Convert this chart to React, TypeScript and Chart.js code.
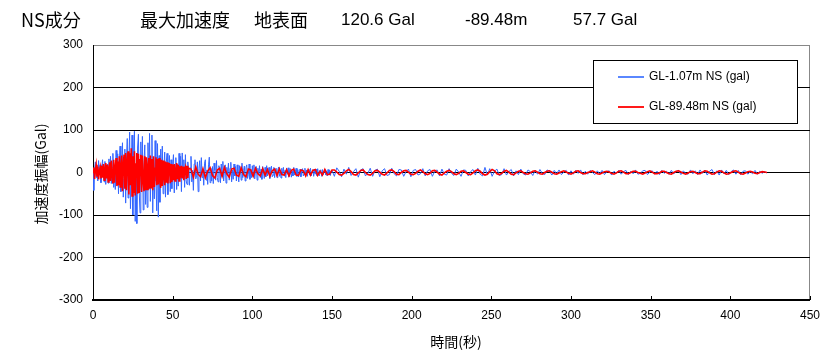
import React, { useEffect, useRef } from "react";
import { Chart, registerables } from "chart.js";

Chart.register(...registerables);

// Title pieces
const titleParts = ["NS成分", "最大加速度", "地表面", "120.6 Gal", "-89.48m", "57.7 Gal"];
const seriesNames = ["GL-1.07m NS (gal)", "GL-89.48m NS (gal)"];
const xTitle = "時間(秒)";
const yTitle = "加速度振幅(Gal)";
const xTicks = [0, 50, 100, 150, 200, 250, 300, 350, 400, 450];
const yTicks = [-300, -200, -100, 0, 100, 200, 300];

// sampling of the read-off values (seconds)
const earlyStart = 0; // 0 .. 60 s, every 0.5 s
const earlyStep = 0.5;
const midStart = 60.5; // 60.5 .. 150 s, every 0.5 s (GL-1.07m)
const midStep = 0.5;
const tailStart = 151.5; // 151.5 .. 423 s, every 1.5 s (GL-1.07m)
const tailStep = 1.5;
const lateStart = 61.5; // 61.5 .. 423 s, every 1.5 s (GL-89.48m)
const lateStep = 1.5;

// GL-1.07m, 0-60 s
const blueEarly = [
  0, -42, 8, 25, -12, 5, -20, 28, -6, 18, -24,
  10, 30, -8, -22, 26, -28, 4, 20, -25, 32,
  -10, 38, -26, 12, 45, -35, 6, -40, 52, -18,
  44, -50, 20, 62, -45, 10, 70, -58, -15, 55,
  -72, 30, 80, -60, 25, 95, -85, -20, 88, -100,
  40, 97, -115, 10, -120, 60, 90, -45, -95, 72,
  -30, 85, -88, 20, 65, -75, 10, -82, 70, -40,
  92, -68, 15, 88, -95, 30, -62, 75, -20, -90,
  68, -105, 40, -70, 55, -20, 62, -50, 10, 48,
  -58, 25, 45, -52, 5, 40, -45, 30, -38, 15,
  42, -48, 10, 35, -40, 20, -32, 45, -15, 38,
  -45, 46, -10, 30, -35, 42, -20, -28, 25, 8,
];

// GL-1.07m, 60.5-150 s
const blueMid = [
  -30, 12, 38, -22, 5, -42, 20, 30, -15, -8,
  25, -45, 10, 28, -20, 35, -12, 4, -30, 22,
  30, -18, 6, -28, 18, 36, -24, 10, -20, 14,
  -26, 22, 5, -18, 28, -12, -22, 16, 8, -24,
  20, -10, 26, -20, 4, 18, -25, 12, -6, 22,
  -18, 10, 24, -22, 6, -16, 20, -8, 14, -20,
  18, -4, -22, 16, 10, -18, 22, -12, 5, 15,
  -20, 12, 18, -14, -4, 20, -16, 8, -12, 16,
  -10, 18, -15, 4, 14, -18, 10, -6, 16, -12,
  8, -16, 14, 2, -14, 12, -10, 16, -8, 6,
  12, -14, 4, 15, -10, -6, 12, -12, 8, 10,
  -12, 6, 13, -9, 3, -13, 10, -6, 12, -8,
  5, -12, 10, -4, 11, -10, 6, 9, -11, 4,
  -8, 12, -6, 2, 10, -9, 7, -10, 5, 8,
  -10, 4, 9, -8, -3, 10, -7, 6, -9, 3,
  8, -6, 10, -8, 2, 7, -9, 5, -4, 8,
  -7, 9, -3, -8, 6, 5, -9, 7, -5, 2,
  8, -6, 4, -8, 7, -3, 6, -7, 3, 5,
];

// GL-1.07m, 151.5-423 s
const blueTail = [
  -9, 11, 3, -10, 8, -4, 12, -7, 2, 9,
  -11, 6, 9, -8, -2, 10, -9, 5, 8, -10,
  4, 9, -7, -5, 10, -3, -8, 7, 6, -9,
  2, 8, -10, 5, 7, -6, -3, 9, -8, 4,
  7, -9, 3, 6, -8, 8, -4, -6, 9, -2,
  -7, 8, 1, -9, 6, 5, -8, 2, 7, -6,
  10, -4, -8, 12, -6, 9, -9, 3, 8, -7,
  -5, 9, -6, 2, 7, -8, 4, -5, 8, -3,
  -6, 6, 2, -7, 5, -4, 7, -2, -5, 6,
  3, -6, 5, -3, 6, -5, 1, 5, -6, 4,
  -4, 5, -2, 6, -5, 3, -4, 5, 0, -5,
  4, -3, 5, -5, 2, 4, -6, 3, -2, 5,
  -4, 2, 5, -5, 3, -3, 6, -4, -2, 4,
  5, -5, 1, 4, -4, 3, -5, 5, -2, 3,
  -4, 5, -3, 2, 5, -5, 4, -2, -4, 6,
  -3, 4, -5, 6, -2, 5, -6, 3, 7, -5,
  4, -6, 6, -3, 5, -5, 2, 6, -4, 5,
  -5, 3, 4, -4, 2, -3, 5, -4, 3, -2,
  2, -1,
];

// GL-89.48m, 0-60 s
const redEarly = [
  0, 12, -15, 5, 18, -10, 14, -16, 3, 12, -14,
  16, -12, 20, -18, 8, 22, -14, 18, -22, 10,
  24, -20, 28, -8, -26, 30, -24, 12, 34, -32,
  26, -30, 38, -34, 15, 40, -44, 20, 42, -38,
  46, -42, 25, 50, -52, 45, -30, 57, -55, 38,
  -48, 50, -54, 20, 46, -50, 44, -48, 30, 42,
  -46, 40, -20, -44, 38, -42, 36, -40, 15, 34,
  -38, 40, -36, 32, -42, 38, -34, 10, 36, -30,
  32, -28, 34, -20, -36, 30, -32, 28, -12, -30,
  26, -24, 24, -26, 8, 22, -25, 20, -22, 18,
  -18, 20, -20, 6, 22, -16, 18, -20, 15, -12,
  16, -14, 14, -18, 5, 12, -15, 16, -13, 10,
];

// GL-89.48m, 61.5-423 s
const redLate = [
  8, -11, 13, -4, -10, 9, -12, 3, 11, -7,
  -13, 6, 10, -9, 12, -3, -11, 8, 10, -6,
  -9, 11, -5, -10, 8, 6, -9, 10, -3, -8,
  9, -6, 7, -9, 4, 8, -7, 9, -5, -6,
  7, -8, 5, 8, -6, -7, 6, 4, -8, 7,
  -6, 5, 7, -7, 3, -6, 7, -5, -4, 6,
  6, 1, -5, -6, -2, 4, 7, 2, -5, -6,
  -1, 5, 6, 0, -5, -6, -2, 4, 5, 1,
  -4, -6, -1, 5, 6, 2, -4, -5, 0, 4,
  5, 1, -4, -5, -2, 3, 6, 2, -3, -5,
  -2, 4, 5, 1, -4, -6, -1, 3, 5, 2,
  -3, -5, -2, 3, 4, 0, -4, -5, -1, 4,
  6, 3, -3, -6, -4, 2, 7, 4, -3, -5,
  -2, 3, 5, 1, -4, -5, -1, 3, 4, 0,
  -3, -4, -1, 3, 4, 1, -3, -4, 0, 3,
  4, 1, -3, -4, -1, 2, 4, 1, -2, -4,
  -1, 3, 4, 0, -3, -3, 0, 2, 4, 1,
  -3, -4, -1, 2, 3, 1, -2, -4, -1, 3,
  4, 1, -3, -3, 0, 3, 3, 0, -2, -4,
  -1, 2, 4, 1, -3, -3, -1, 3, 3, 0,
  -3, -4, 0, 3, 4, 1, -2, -4, -1, 2,
  3, 0, -3, -3, 1, 4, 3, -1, -4, -3,
  1, 4, 3, -1, -4, -3, 0, 3, 4, 1,
  -3, -4, -1, 2, 3, 1, -2, -3, 0, 2,
  1, 0,
];

const blueColor = "#3366ff";
const redColor = "#ff0000";
const legendColors = ["#5a87ff", "#ff1a1a"];

type Seg = { start: number; step: number; values: number[] };
function toPoints(segs: Seg[]) {
  const pts: { x: number; y: number }[] = [];
  segs.forEach((s) => s.values.forEach((v, i) => pts.push({ x: s.start + i * s.step, y: v })));
  return pts;
}

const JP = '"Noto Sans CJK JP", "Liberation Sans", sans-serif';
const NUM = '"Liberation Sans", "DejaVu Sans", sans-serif';

const overlayPlugin = {
  id: "overlay",
  afterDraw(chart: any) {
    const ctx = chart.ctx as CanvasRenderingContext2D;
    const area = chart.chartArea;
    const xs = chart.scales.x;
    ctx.save();
    // inward tick marks on x axis
    ctx.strokeStyle = "#000";
    ctx.lineWidth = 1;
    xTicks.forEach((t) => {
      const px = Math.round(xs.getPixelForValue(t)) + 0.5;
      ctx.beginPath();
      ctx.moveTo(px, area.bottom);
      ctx.lineTo(px, area.bottom - 4);
      ctx.stroke();
    });
    // title
    ctx.fillStyle = "#000";
    ctx.textBaseline = "middle";
    ctx.textAlign = "left";
    const tx = [21, 140, 254, 341, 465, 573];
    titleParts.forEach((s, i) => {
      const cjk = i < 3;
      ctx.font = cjk ? `18px ${JP}` : `17px ${NUM}`;
      ctx.fillText(s, tx[i], 20);
    });
    // axis titles
    ctx.font = `14px ${JP}`;
    ctx.textAlign = "center";
    ctx.fillText(xTitle, 456, 342);
    ctx.save();
    ctx.translate(41, 174);
    ctx.rotate(-Math.PI / 2);
    ctx.fillText(yTitle, 0, 0);
    ctx.restore();
    // legend
    const lx = 593, ly = 60, lw = 204, lh = 63;
    ctx.fillStyle = "#fff";
    ctx.fillRect(lx, ly, lw, lh);
    ctx.strokeStyle = "#000";
    ctx.lineWidth = 1;
    ctx.strokeRect(lx + 0.5, ly + 0.5, lw, lh);
    const rows = [77, 107];
    ctx.font = `12px ${NUM}`;
    ctx.textAlign = "left";
    seriesNames.forEach((n, i) => {
      ctx.fillStyle = legendColors[i];
      ctx.fillRect(618, rows[i] - 1, 26, 2);
      ctx.fillStyle = "#000";
      ctx.fillText(n, 649, rows[i]);
    });
    ctx.restore();
  },
};

export default function App() {
  const ref = useRef<HTMLCanvasElement>(null);
  useEffect(() => {
    document.body.style.margin = "0";
    document.body.style.overflow = "hidden";
    const chart = new Chart(ref.current!, {
      type: "line",
      data: {
        datasets: [
          {
            label: seriesNames[0],
            data: toPoints([
              { start: earlyStart, step: earlyStep, values: blueEarly },
              { start: midStart, step: midStep, values: blueMid },
              { start: tailStart, step: tailStep, values: blueTail },
            ]),
            borderColor: blueColor,
            borderWidth: 1,
            pointRadius: 0,
            tension: 0,
            order: 2,
          },
          {
            label: seriesNames[1],
            data: toPoints([
              { start: earlyStart, step: earlyStep, values: redEarly },
              { start: lateStart, step: lateStep, values: redLate },
            ]),
            borderColor: redColor,
            borderWidth: 1.6,
            pointRadius: 0,
            tension: 0,
            order: 1,
          },
        ],
      },
      plugins: [overlayPlugin],
      options: {
        responsive: false,
        animation: false,
        events: [],
        layout: { padding: { top: 45, right: 16, left: 0, bottom: 0 } },
        plugins: { legend: { display: false }, title: { display: false }, tooltip: { enabled: false } },
        scales: {
          x: {
            type: "linear",
            min: 0,
            max: 450,
            afterBuildTicks: (s: any) => {
              s.ticks = xTicks.map((v) => ({ value: v }));
            },
            afterFit: (s: any) => {
              s.height = 54;
            },
            ticks: { color: "#000", font: { family: NUM, size: 12 }, padding: 8, maxRotation: 0 },
            grid: {
              drawTicks: false,
              color: (c: any) => (c.tick && c.tick.value === 450 ? "#888" : "rgba(0,0,0,0)"),
            },
            border: { color: "#000", width: 2 },
          },
          y: {
            type: "linear",
            min: -300,
            max: 300,
            afterBuildTicks: (s: any) => {
              s.ticks = yTicks.map((v) => ({ value: v }));
            },
            afterFit: (s: any) => {
              s.width = 93;
            },
            ticks: { color: "#000", font: { family: NUM, size: 12 }, padding: 10 },
            grid: {
              drawTicks: false,
              color: (c: any) => (c.tick && c.tick.value === 300 ? "#888" : "#000"),
            },
            border: { color: "#000", width: 1 },
          },
        },
      },
    });
    return () => chart.destroy();
  }, []);
  return (
    <div style={{ width: 828, height: 354, background: "#fff" }}>
      <canvas ref={ref} width={828} height={354} />
    </div>
  );
}
